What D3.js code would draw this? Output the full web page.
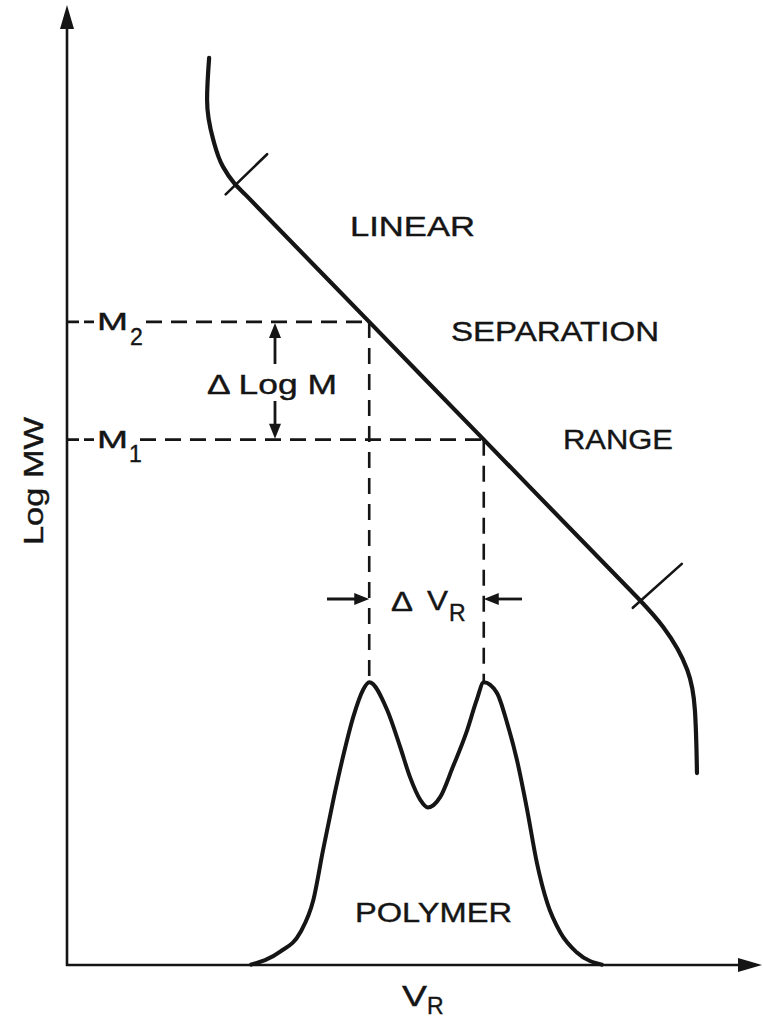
<!DOCTYPE html>
<html>
<head>
<meta charset="utf-8">
<script src="https://cdn.jsdelivr.net/npm/d3@7"></script>
<style>
  html, body { margin: 0; padding: 0; background: #fff; }
  svg { display: block; }
  text { font-family: "Liberation Sans", Arial, Helvetica, sans-serif; fill: #151515; stroke: #151515; stroke-width: 0.4px; }
</style>
</head>
<body>
<svg id="chart" width="763" height="1019"></svg>
<script>
// ---- data (schematic units: V_R and Log MW on 0..100 scales) ----
// calibration curve: [V_R, Log MW]
const calibVR   = [20.6, 20.3, 21.2, 22.6, 24.2, 26.0, 43.8, 60.4, 81.5, 83.04, 86.4, 89.9, 91.0, 91.3];
const calibLogM = [95.0, 90.6, 86.4, 83.6, 81.9, 80.56, 67.34, 55.01, 39.34, 38.2, 35.4, 30.9, 26.7, 20.1];
// limits of the linear range (tick marks across the curve)
const tickUpper = [[23.0, 80.7], [29.0, 84.9]];
const tickLower = [[82.0, 37.4], [89.1, 42.0]];
// bimodal polymer distribution: [V_R, detector response]
const polyVR   = [26.5, 30.9, 33.8, 35.7, 37.1, 38.6, 40.0, 41.5, 42.9, 43.8, 46.4, 48.3, 49.7, 51.2, 52.3, 54.1, 55.9, 58.0, 59.4, 60.4, 62.3, 63.8, 65.2, 66.7, 68.1, 69.6, 71.5, 73.9, 77.7];
const polyResp = [0.0, 1.4, 3.4, 6.8, 12.0, 17.3, 21.8, 26.0, 28.8, 29.6, 26.7, 22.8, 19.7, 17.3, 16.5, 17.6, 20.7, 24.6, 27.8, 29.6, 28.5, 25.3, 21.5, 16.2, 10.7, 6.5, 3.4, 1.3, 0.0];
// the two resolved components
const peakVR  = [43.8, 60.4];     // V_R of the two peaks
const peakM   = [67.34, 55.01];   // corresponding Log M (M2, M1)
const peakTop = 29.6;
const regionLabels = ["LINEAR", "SEPARATION", "RANGE"];

// ---- scales ----
const svg = d3.select("#chart");
const x = d3.scaleLinear().domain([0, 100]).range([67, 757]);
const y = d3.scaleLinear().domain([0, 100]).range([965, 10]);
const ink = "#151515";

const calibLine = d3.line().x(d => x(d[0])).y(d => y(d[1])).curve(d3.curveMonotoneY);
const polyLine = d3.line().x(d => x(d[0])).y(d => y(d[1])).curve(d3.curveMonotoneX);

// ---- axes with arrowheads ----
function arrowHead(tx, ty, dx, dy, len, half) {
  const n = Math.hypot(dx, dy); const ux = dx / n, uy = dy / n;
  const bx = tx - ux * len, by = ty - uy * len;
  return `M${tx},${ty}L${bx - uy * half},${by + ux * half}L${bx + uy * half},${by - ux * half}Z`;
}
const x0 = x(0), y0 = y(0);
svg.append("line").attr("x1", x0).attr("y1", y0 + 1).attr("x2", x0).attr("y2", 12)
  .attr("stroke", ink).attr("stroke-width", 2.6);
svg.append("path").attr("d", arrowHead(x0, 5, 0, -1, 24, 7)).attr("fill", ink);
svg.append("line").attr("x1", x0 - 1).attr("y1", y0).attr("x2", 752).attr("y2", y0)
  .attr("stroke", ink).attr("stroke-width", 2.6);
svg.append("path").attr("d", arrowHead(762, y0, 1, 0, 24, 7)).attr("fill", ink);

// ---- dashed guide lines ----
function dash(x1, y1, x2, y2, pattern) {
  svg.append("line").attr("x1", x1).attr("y1", y1).attr("x2", x2).attr("y2", y2)
    .attr("stroke", ink).attr("stroke-width", 2.6).attr("stroke-dasharray", pattern || "16,9");
}
const yM2 = y(peakM[0]), yM1 = y(peakM[1]);
dash(x0, yM2, 94, yM2, "12,5");
dash(146, yM2, x(peakVR[0]), yM2, "16,9");
dash(x0, yM1, 94, yM1, "12,5");
dash(140, yM1, x(peakVR[1]), yM1, "16,9");
dash(x(peakVR[0]), yM2, x(peakVR[0]), y(peakTop), "16,10");
dash(x(peakVR[1]), yM1, x(peakVR[1]), y(peakTop), "16,10");

// ---- calibration curve ----
svg.append("path")
  .attr("d", calibLine(calibVR.map((v, i) => [v, calibLogM[i]])))
  .attr("fill", "none").attr("stroke", ink).attr("stroke-width", 4.2).attr("stroke-linecap", "round");
[tickUpper, tickLower].forEach(t => {
  svg.append("line").attr("x1", x(t[0][0])).attr("y1", y(t[0][1])).attr("x2", x(t[1][0])).attr("y2", y(t[1][1]))
    .attr("stroke", ink).attr("stroke-width", 2.6).attr("stroke-linecap", "round");
});

// ---- polymer distribution ----
svg.append("path")
  .attr("d", polyLine(polyVR.map((v, i) => [v, polyResp[i]])))
  .attr("fill", "none").attr("stroke", ink).attr("stroke-width", 4).attr("stroke-linejoin", "round");

// ---- small arrows ----
function arrow(x1, y1, x2, y2) {
  const dx = x2 - x1, dy = y2 - y1, n = Math.hypot(dx, dy);
  svg.append("line").attr("x1", x1).attr("y1", y1)
    .attr("x2", x2 - dx / n * 8).attr("y2", y2 - dy / n * 8)
    .attr("stroke", ink).attr("stroke-width", 2.8);
  svg.append("path").attr("d", arrowHead(x2, y2, dx, dy, 15, 6)).attr("fill", ink);
}
arrow(275, 364, 275, yM2 + 1);
arrow(275, 401, 275, yM1 - 1);
arrow(327, 599, x(peakVR[0]), 599);
arrow(522, 599, x(peakVR[1]), 599);

// ---- text ----
function label(txt, px, py, size, len) {
  const t = svg.append("text").attr("x", px).attr("y", py).attr("font-size", size).text(txt);
  if (len) t.attr("textLength", len).attr("lengthAdjust", "spacingAndGlyphs");
  return t;
}
label(regionLabels[0], 350, 236, 28, 125);
label(regionLabels[1], 451, 341, 28, 208);
label(regionLabels[2], 563, 449, 28, 110);
label("\u0394 Log M", 207, 394, 28, 130);
label("M", 97, yM2 + 8, 24, 31);
label("2", 130, yM2 + 23, 23);
label("M", 97, yM1 + 8, 24, 31);
label("1", 129, yM1 + 22, 23);
label("\u0394", 391, 611, 28, 22);
label("V", 427, 610, 28, 21);
label("R", 449, 621, 23);
label("POLYMER", 355, 922, 28, 157);
label("V", 402, 1006, 29, 25);
label("R", 427, 1014, 23);
svg.append("text")
  .attr("transform", "translate(43,481) rotate(-90)")
  .attr("text-anchor", "middle").attr("font-size", 28)
  .attr("textLength", 128).attr("lengthAdjust", "spacingAndGlyphs")
  .text("Log MW");
</script>
</body>
</html>
